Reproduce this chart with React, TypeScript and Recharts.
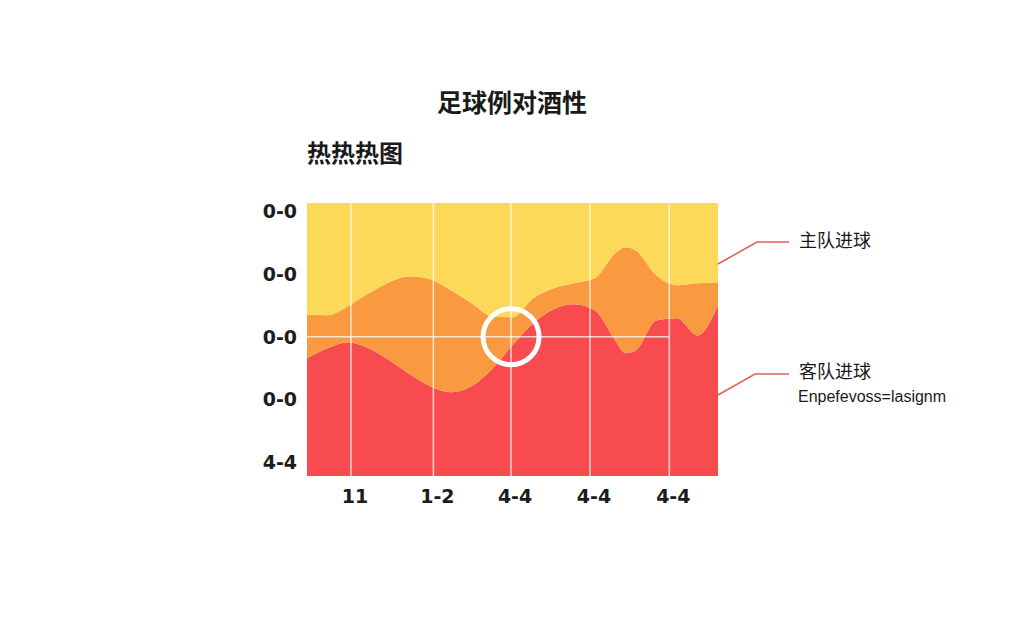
import {
  AreaChart,
  Area,
  XAxis,
  YAxis,
  ReferenceLine,
  ReferenceDot,
} from 'recharts';

// 横轴采样点
const xIndex = [0, 1, 2, 3, 4, 5, 6, 7, 8, 9, 10, 11, 12, 13, 14, 15, 15.5, 16, 17, 18, 19, 20];

// 客队进球（底层，红）
const awayGoals = [43.1, 46.8, 49.0, 46.8, 42.4, 37.3, 32.9, 30.7, 32.9, 39.1, 47.9, 55.9, 61.1, 62.9, 60.7, 49.6, 45.0, 46.0, 57.0, 57.8, 51.5, 62.5];
// 中间层（橙）
const midLayer = [16.1, 12.1, 13.2, 20.1, 28.6, 35.9, 39.2, 37.3, 30.4, 19.4, 10.2, 9.2, 7.7, 7.7, 11.7, 32.0, 38.8, 36.6, 16.5, 12.1, 19.1, 8.5];
// 主队进球（顶层，黄）
const homeGoals = [40.8, 41.1, 37.8, 33.1, 29.0, 26.8, 27.9, 32.0, 36.7, 41.5, 41.9, 34.9, 31.2, 29.4, 27.6, 18.4, 16.2, 17.4, 26.5, 30.1, 29.4, 29.0];

// 轴刻度
const xTicks = [2.14, 6.15, 9.93, 13.77, 17.63];
const xTickLabels = ['11', '1-2', '4-4', '4-4', '4-4'];
const yTicks = [5, 28, 51, 74, 97];
const yTickLabels = ['4-4', '0-0', '0-0', '0-0', '0-0'];

const chartData = xIndex.map((x, i) => ({
  x,
  away: awayGoals[i],
  mid: midLayer[i],
  home: homeGoals[i],
}));

const tickFont = { fill: '#1c1c1c', fontSize: 19, fontWeight: 700, fontFamily: 'DejaVu Sans' };

const XTick = (props: any) => {
  const { x, y, payload } = props;
  const idx = xTicks.indexOf(payload.value);
  return (
    <text x={x + 4} y={y} dy="0.71em" textAnchor="middle" {...tickFont}>
      {xTickLabels[idx] ?? ''}
    </text>
  );
};

export default function App() {
  return (
    <div style={{ position: 'fixed', left: 0, top: 0, width: 1024, height: 640, background: '#fff' }}>
      <div
        style={{
          position: 'absolute',
          left: 0,
          width: 1024,
          top: 84,
          textAlign: 'center',
          fontFamily: '"Noto Sans CJK SC", "Noto Sans"',
          fontSize: 25,
          fontWeight: 700,
          color: '#1a1a1a',
          lineHeight: '34px',
        }}
      >
        足球例对酒性
      </div>
      <div
        style={{
          position: 'absolute',
          left: 307,
          top: 136,
          fontFamily: '"Noto Sans CJK SC", "Noto Sans"',
          fontSize: 24,
          fontWeight: 700,
          color: '#1a1a1a',
          lineHeight: '32px',
        }}
      >
        热热热图
      </div>
      <AreaChart
        width={1024}
        height={640}
        data={chartData}
        margin={{ top: 203, right: 306, bottom: 124, left: 250 }}
      >
        <XAxis
          dataKey="x"
          type="number"
          domain={[0, 20]}
          ticks={xTicks}
          tick={<XTick />}
          axisLine={false}
          tickLine={false}
          tickSize={0}
          tickMargin={14}
          height={40}
        />
        <YAxis
          type="number"
          domain={[0, 100]}
          ticks={yTicks}
          tickFormatter={(v: number) => yTickLabels[yTicks.indexOf(v)] ?? ''}
          tick={tickFont}
          axisLine={false}
          tickLine={false}
          tickSize={0}
          tickMargin={10}
          width={57}
        />
        <Area type="monotone" dataKey="away" name="客队进球" stackId="s" stroke="none" fill="#F74B50" fillOpacity={1} isAnimationActive={false} />
        <Area type="monotone" dataKey="mid" name="Enpefevoss=lasignm" stackId="s" stroke="none" fill="#F99A40" fillOpacity={1} isAnimationActive={false} />
        <Area type="monotone" dataKey="home" name="主队进球" stackId="s" stroke="none" fill="#FDD95A" fillOpacity={1} isAnimationActive={false} />
        {xTicks.map((t) => (
          <ReferenceLine key={t} x={t} stroke="#ffffff" strokeOpacity={0.75} strokeWidth={1.5} />
        ))}
        <ReferenceLine
          segment={[{ x: 0, y: 51 }, { x: 17.63, y: 51 }]}
          stroke="#ffffff"
          strokeOpacity={0.75}
          strokeWidth={1.5}
        />
        <ReferenceDot x={9.93} y={51} r={28} fill="none" stroke="#ffffff" strokeWidth={5} />
      </AreaChart>
      <svg
        width={1024}
        height={640}
        style={{ position: 'absolute', left: 0, top: 0, pointerEvents: 'none' }}
      >
        <polyline points="718,264 757,242 789,242" fill="none" stroke="#E5605A" strokeWidth={1.6} />
        <polyline points="718,395 755,374 789,374" fill="none" stroke="#E5605A" strokeWidth={1.6} />
        <g fontFamily='"Noto Sans CJK SC", "Noto Sans"' fill="#1a1a1a">
          <text x={799} y={247} fontSize={18}>主队进球</text>
          <text x={799} y={378} fontSize={18}>客队进球</text>
          <text x={798} y={402} fontSize={16} fontFamily="Liberation Sans">Enpefevoss=lasignm</text>
        </g>
      </svg>
    </div>
  );
}
